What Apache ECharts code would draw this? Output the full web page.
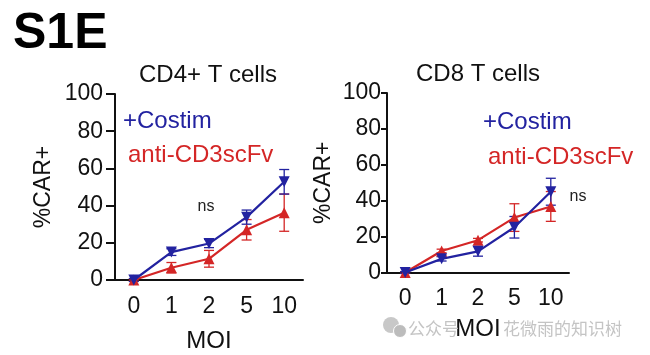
<!DOCTYPE html>
<html><head><meta charset="utf-8">
<script src="https://cdn.jsdelivr.net/npm/echarts@6/dist/echarts.min.js"></script>
<style>html,body{margin:0;padding:0;background:#fff}#c{width:650px;height:355px}</style>
</head><body><div id="c"></div>
<script>
const moiLabels = ['0', '1', '2', '5', '10'];
const yTicks = [0, 20, 40, 60, 80, 100];
// CD4+ T cells
const cd4Costim = [0, 15, 19.6, 33.8, 52.8];
const cd4CostimErr = [0.8, 1.8, 2.2, 3.8, 6.6];
const cd4AntiCD3 = [0, 6.6, 11.4, 27, 36.2];
const cd4AntiCD3Err = [0.5, 2.8, 4.5, 5.5, 10];
// CD8 T cells
const cd8Costim = [0, 7.6, 11.8, 25.2, 45];
const cd8CostimErr = [0.5, 1.2, 2.7, 6, 7.5];
const cd8AntiCD3 = [0, 12, 18, 30.6, 36.8];
const cd8AntiCD3Err = [0.5, 1, 1, 7.7, 8.3];

const BLUE = '#2222a0';
const RED = '#d42626';
const FONT = 'Liberation Sans';

function errSeries(idx, means, errs, color, z) {
  return {
    type: 'custom', xAxisIndex: idx, yAxisIndex: idx, z: z,
    data: means.map((m, i) => [i, m - errs[i], m + errs[i]]),
    renderItem: function (params, api) {
      const x = api.value(0);
      const lo = api.coord([x, api.value(1)]);
      const hi = api.coord([x, api.value(2)]);
      const w = 5;
      const st = { stroke: color, lineWidth: 1.3 };
      return { type: 'group', children: [
        { type: 'line', shape: { x1: lo[0], y1: lo[1], x2: hi[0], y2: hi[1] }, style: st },
        { type: 'line', shape: { x1: lo[0] - w, y1: lo[1], x2: lo[0] + w, y2: lo[1] }, style: st },
        { type: 'line', shape: { x1: hi[0] - w, y1: hi[1], x2: hi[0] + w, y2: hi[1] }, style: st }
      ]};
    }
  };
}
function lineSeries(idx, name, data, color, symbol, rot, z) {
  return {
    type: 'line', name: name, xAxisIndex: idx, yAxisIndex: idx, data: data, z: z,
    symbol: symbol, symbolSize: 11, symbolRotate: rot,
    lineStyle: { color: color, width: 2.2 }, itemStyle: { color: color },
    animation: false
  };
}
function xAx(idx, gap) {
  return {
    type: 'category', gridIndex: idx, data: moiLabels, boundaryGap: true,
    name: 'MOI', nameLocation: 'middle', nameGap: gap,
    nameTextStyle: { fontFamily: FONT, fontSize: 24, color: '#111' },
    axisLine: { lineStyle: { color: '#111', width: 2 } },
    axisTick: { alignWithLabel: true, length: 8, lineStyle: { color: '#111', width: 2 } },
    axisLabel: { fontFamily: FONT, fontSize: 23, color: '#111', margin: 15 }
  };
}
function yAx(idx, gap, tickLen, margin) {
  return {
    type: 'value', gridIndex: idx, min: 0, max: 100, interval: 20,
    name: '%CAR+', nameLocation: 'middle', nameGap: gap, nameRotate: 90,
    nameTextStyle: { fontFamily: FONT, fontSize: 23, color: '#111' },
    axisLine: { show: true, lineStyle: { color: '#111', width: 2 } },
    axisTick: { show: true, length: tickLen, lineStyle: { color: '#111', width: 2 } },
    axisLabel: { fontFamily: FONT, fontSize: 23, color: '#111', margin: margin,
      formatter: v => yTicks.includes(v) ? String(v) : '' },
    splitLine: { show: false }
  };
}
function txt(x, y, s, color, size, weight, align) {
  return { type: 'text', x: x, y: y, z: 100,
    style: { text: s, fill: color, font: (weight || 'normal') + ' ' + size + 'px "' + FONT + '"',
      textAlign: align || 'left', textVerticalAlign: 'middle' } };
}

const chart = echarts.init(document.getElementById('c'), null, { renderer: 'canvas' });
chart.setOption({
  animation: false,
  backgroundColor: '#fff',
  grid: [
    { left: 115, top: 94, width: 188, height: 186, containLabel: false, outerBoundsMode: 'none' },
    { left: 387, top: 93, width: 182, height: 179.5, containLabel: false, outerBoundsMode: 'none' }
  ],
  xAxis: [xAx(0, 49), xAx(1, 45)],
  yAxis: [yAx(0, 60, 9, 12), yAx(1, 52, 6, 6)],
  series: [
    errSeries(0, cd4AntiCD3, cd4AntiCD3Err, RED, 2),
    errSeries(0, cd4Costim, cd4CostimErr, BLUE, 2),
    lineSeries(0, 'anti-CD3scFv', cd4AntiCD3, RED, 'triangle', 0, 3),
    lineSeries(0, '+Costim', cd4Costim, BLUE, 'triangle', 180, 4),
    errSeries(1, cd8AntiCD3, cd8AntiCD3Err, RED, 2),
    errSeries(1, cd8Costim, cd8CostimErr, BLUE, 2),
    lineSeries(1, 'anti-CD3scFv', cd8AntiCD3, RED, 'triangle', 0, 3),
    lineSeries(1, '+Costim', cd8Costim, BLUE, 'triangle', 180, 4)
  ],
  graphic: [
    txt(13, 34, 'S1E', '#000', 50, 'bold'),
    txt(208, 75, 'CD4+ T cells', '#111', 24, 'normal', 'center'),
    txt(478, 74, 'CD8 T cells', '#111', 24, 'normal', 'center'),
    txt(123, 121, '+Costim', BLUE, 24),
    txt(128, 155, 'anti-CD3scFv', RED, 24),
    txt(483, 122, '+Costim', BLUE, 24),
    txt(488, 157, 'anti-CD3scFv', RED, 24),
    txt(206, 207, 'ns', '#222', 16, 'normal', 'center'),
    txt(578, 197, 'ns', '#222', 16, 'normal', 'center'),
    { type: 'circle', shape: { cx: 391, cy: 325, r: 8 }, style: { fill: '#c8c8c8' }, z: 50 },
    { type: 'circle', shape: { cx: 400, cy: 331, r: 6.5 }, style: { fill: '#bcbcbc', stroke: '#fff', lineWidth: 1 }, z: 51 },
    { type: 'text', x: 408, y: 329, z: 50, style: { text: '公众号', fill: '#c4c4c4', font: '17px "Noto Sans CJK SC"', textVerticalAlign: 'middle' } },
    { type: 'text', x: 503, y: 329, z: 50, style: { text: '花微雨的知识树', fill: '#c4c4c4', font: '17px "Noto Sans CJK SC"', textVerticalAlign: 'middle' } }
  ]
});
</script></body></html>
